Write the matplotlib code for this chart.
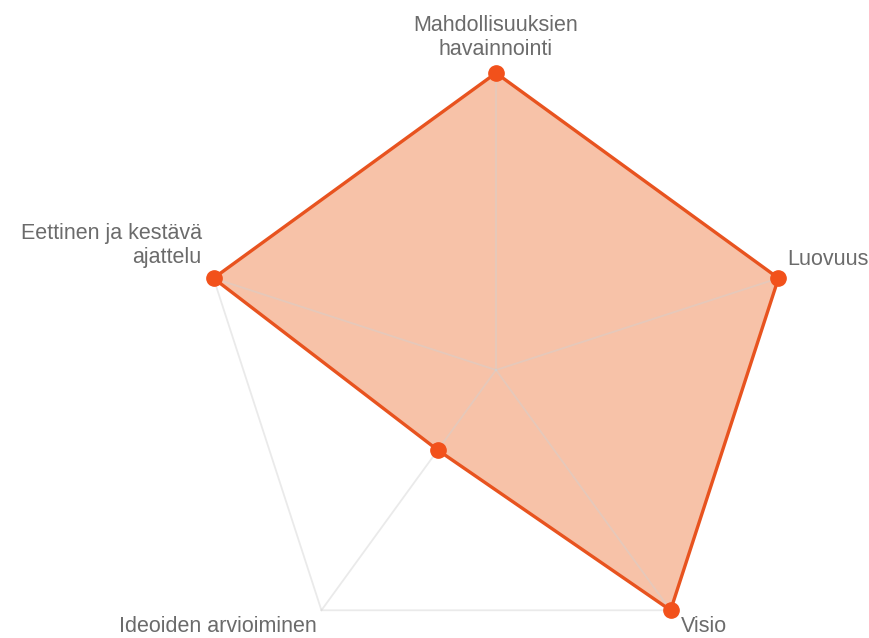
import numpy as np
import matplotlib
matplotlib.use("Agg")
import matplotlib.pyplot as plt

categories = ["Mahdollisuuksien\nhavainnointi", "Luovuus", "Visio",
              "Ideoiden arvioiminen", "Eettinen ja kestävä\najattelu"]
values = [3, 3, 3, 1, 3]
rmax = 3

W, H = 870, 638
fig = plt.figure(figsize=(W / 100, H / 100), dpi=100)
cx, cy, R = 496, 370, 297
ax = fig.add_axes([(cx - R) / W, (H - cy - R) / H, 2 * R / W, 2 * R / H], polar=True)
ax.set_theta_offset(np.pi / 2)
ax.set_theta_direction(-1)
ax.set_ylim(0, rmax)
ax.grid(False)
ax.spines['polar'].set_visible(False)
ax.set_xticks([])
ax.set_yticks([])
ax.patch.set_alpha(0)

n = len(categories)
angles = np.linspace(0, 2 * np.pi, n, endpoint=False)
ang_c = np.append(angles, angles[0])
vals_c = values + values[:1]

ax.fill(ang_c, vals_c, color='#f7c2a8', zorder=1, lw=0)

grid_col = (0.82, 0.82, 0.82)
ax.plot(ang_c, [rmax] * (n + 1), color=grid_col, alpha=0.45, lw=1.3, zorder=2, clip_on=False)
for a in angles:
    ax.plot([a, a], [0, rmax], color=grid_col, alpha=0.45, lw=1.3, zorder=2, clip_on=False)

ax.plot(ang_c, vals_c, color='#e8531f', lw=2.4, zorder=3, clip_on=False)
ax.plot(angles, values, 'o', color='#f2511b', ms=11, zorder=4, clip_on=False)

lab_col = '#6b6b6b'
fs = 15.5
fam = ['Liberation Sans', 'DejaVu Sans']
p = 0.72  # px -> pt at dpi 100
specs = [
    (0, (0, 13), 'center', 'bottom', 'center'),
    (1, (9, 19), 'left', 'center', 'left'),
    (2, (10, -22), 'left', 'baseline', 'left'),
    (3, (-5, -22), 'right', 'baseline', 'right'),
    (4, (-12, 10), 'right', 'bottom', 'right'),
]
for i, (dx, dy), ha, va, ma in specs:
    ax.annotate(categories[i], xy=(angles[i], rmax), xytext=(dx * p, dy * p),
                textcoords='offset points', ha=ha, va=va, multialignment=ma,
                fontsize=fs, color=lab_col, family=fam, linespacing=1.2,
                annotation_clip=False)

fig.savefig('out.png', dpi=100)
